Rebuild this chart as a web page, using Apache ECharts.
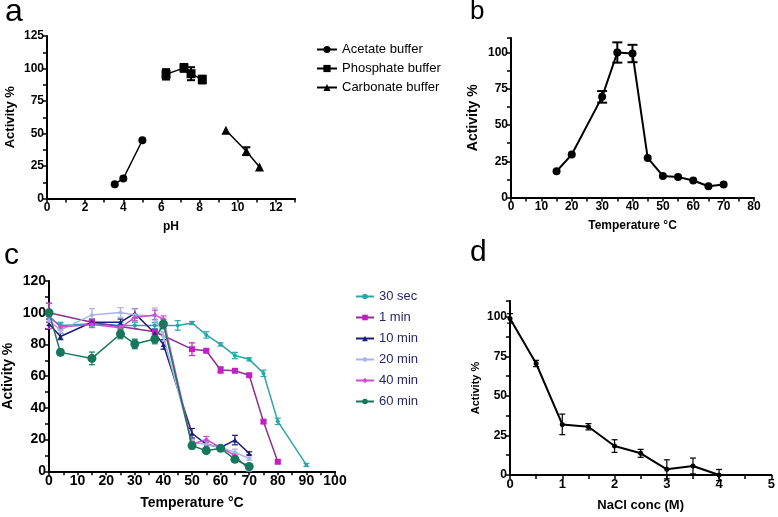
<!DOCTYPE html>
<html>
<head>
<meta charset="utf-8">
<script src="https://cdn.jsdelivr.net/npm/echarts@6/dist/echarts.min.js"></script>
<style>
html,body{margin:0;padding:0;background:#fff;}
#chart{width:778px;height:517px;}
</style>
</head>
<body>
<div id="chart"></div>
<script>
// ---------- Panel a: pH ----------
const phAcetate = [3.55, 4.0, 5.0];
const actAcetate = [11, 15.4, 44.8];
const errAcetate = [0, 0, 0];
const phPhosphate = [6.24, 7.18, 7.55, 8.14];
const actPhosphate = [95.5, 100.5, 96, 91.5];
const errPhosphate = [4, 3, 5, 3];
const phCarbonate = [9.38, 10.45, 11.14];
const actCarbonate = [52.5, 36.4, 24.3];
const errCarbonate = [0, 3, 0];

// ---------- Panel b: temperature ----------
const tempB = [15, 20, 30, 35, 40, 45, 50, 55, 60, 65, 70];
const actB = [18.1, 29.6, 69.4, 100, 99.3, 27.3, 14.9, 14.2, 11.7, 7.8, 9];
const errB = [0, 0, 4, 7, 6, 0, 0, 0, 0, 0, 0];

// ---------- Panel c: thermostability ----------
const legendC = ['30 sec', '1 min', '10 min', '20 min', '40 min', '60 min'];
const temp30s = [0, 4, 15, 25, 30, 37, 40, 45, 50, 55, 60, 65, 70, 75, 80, 90];
const act30s = [97, 92, 93, 92, 92, 92, 92, 92, 93.5, 86, 80, 73, 70.6, 61.8, 31.5, 4];
const err30s = [3, 2, 2, 2, 2, 2, 2, 3, 1, 2, 1, 2, 1, 2, 2, 1];
const temp1m = [0, 15, 37, 50, 55, 60, 65, 70, 75, 80];
const act1m = [100, 94, 88, 77, 76, 63.9, 63.4, 60.6, 31.3, 6];
const err1m = [6, 1, 1, 4, 1, 2, 1, 1, 1, 1];
const temp10m = [0, 4, 15, 25, 30, 37, 40, 50, 55, 60, 65, 70];
const act10m = [93, 85, 94, 94, 99.6, 87, 80, 24, 17, 15, 19.7, 11.3];
const err10m = [3, 2, 2, 2, 3, 2, 3, 3, 2, 1, 3, 1];
const temp20m = [0, 4, 15, 25, 30, 37, 40, 50, 55, 60, 65, 70];
const act20m = [95, 89, 98.6, 100.2, 98.5, 98, 85, 18, 17, 15, 12, 8];
const err20m = [3, 2, 4, 3, 4, 5, 3, 2, 2, 1, 2, 1];
const temp40m = [0, 4, 15, 25, 30, 37, 40, 50, 55, 60, 65, 70];
const act40m = [98, 91, 92.6, 90.5, 97, 98.6, 96, 17, 20, 15, 10, 1];
const err40m = [8, 2, 2, 2, 2, 3, 2, 2, 2, 1, 1, 1];
const temp60m = [0, 4, 15, 25, 30, 37, 40, 50, 55, 60, 65, 70];
const act60m = [100, 75, 71.2, 86.6, 80.3, 83.4, 92.9, 16.2, 13, 14.5, 7.6, 3];
const err60m = [2, 2, 4, 3, 3, 3, 3, 2, 1, 1, 1, 1];

// ---------- Panel d: NaCl ----------
const nacl = [0, 0.5, 1, 1.5, 2, 2.5, 3, 3.5, 4];
const actD = [99, 70.5, 32, 30.5, 18.3, 13.7, 3.6, 5.7, 0];
const errD = [3, 2, 6.5, 2, 4, 2.5, 6, 5, 3.5];

const FONT = 'Liberation Sans, Arial, sans-serif';

function zip(xs, ys) { return xs.map((x, i) => [x, ys[i]]); }

function errSeries(xs, ys, es, color, idx, cap, lw) {
  return {
    type: 'custom', xAxisIndex: idx, yAxisIndex: idx, silent: true, z: 1,
    data: xs.map((x, i) => [x, ys[i], es[i]]),
    encode: { x: 0, y: 1 },
    renderItem: function (params, api) {
      const x = api.value(0), y = api.value(1), e = api.value(2);
      if (!e) return { type: 'group', children: [] };
      const t = api.coord([x, y + e]), b = api.coord([x, y - e]);
      const st = { stroke: color, lineWidth: lw };
      return {
        type: 'group', children: [
          { type: 'line', shape: { x1: t[0], y1: t[1], x2: b[0], y2: b[1] }, style: st },
          { type: 'line', shape: { x1: t[0] - cap, y1: t[1], x2: t[0] + cap, y2: t[1] }, style: st },
          { type: 'line', shape: { x1: b[0] - cap, y1: b[1], x2: b[0] + cap, y2: b[1] }, style: st }
        ]
      };
    }
  };
}

function lineSeries(name, xs, ys, idx, sym, size, itemColor, lineColor, lw) {
  return {
    name: name, type: 'line', xAxisIndex: idx, yAxisIndex: idx, z: 3,
    data: zip(xs, ys), symbol: sym, symbolSize: size, showSymbol: true,
    itemStyle: { color: itemColor, borderWidth: 0 },
    lineStyle: { color: lineColor, width: lw },
    emphasis: { disabled: true }, animation: false
  };
}

function axis(idx, min, max, interval, labelFn, fs, name, nameGap, nameFs) {
  return {
    type: 'value', gridIndex: idx, min: min, max: max, interval: interval,
    axisLine: { show: true, onZero: false, lineStyle: { color: '#000', width: 2 } },
    axisTick: { show: true, length: 4, lineStyle: { color: '#000', width: 1.5 } },
    splitLine: { show: false },
    axisLabel: { color: '#000', fontWeight: 'bold', fontSize: fs, fontFamily: FONT, margin: 3, formatter: labelFn },
    name: name, nameLocation: 'middle', nameGap: nameGap,
    nameTextStyle: { color: '#000', fontWeight: 'bold', fontSize: nameFs, fontFamily: FONT }
  };
}

const every = (m, maxLab) => v => (Math.abs(v / m - Math.round(v / m)) < 1e-9 && v <= maxLab) ? String(v) : '';

const chart = echarts.init(document.getElementById('chart'), null, { renderer: 'canvas' });

const option = {
  animation: false,
  backgroundColor: '#fff',
  grid: [
    { left: 47, top: 36, width: 248, height: 162.5 },
    { left: 511, top: 38, width: 243, height: 159.5 },
    { left: 48, top: 281, width: 287, height: 190.3 },
    { left: 510, top: 301, width: 263, height: 174 }
  ],
  xAxis: [
    axis(0, 0, 13, 1, every(2, 12), 12, 'pH', 22, 12),
    axis(1, 0, 80, 5, every(10, 80), 12, 'Temperature \u00B0C', 22, 12),
    axis(2, 0, 100, 5, every(10, 100), 14, 'Temperature \u00B0C', 25, 14),
    axis(3, 0, 5, 0.5, every(1, 5), 13, 'NaCl conc (M)', 24, 13)
  ],
  yAxis: [
    axis(0, 0, 125, 12.5, every(25, 125), 12, 'Activity %', 30, 13),
    axis(1, 0, 110, 12.5, every(25, 100), 12, 'Activity %', 31, 14),
    axis(2, 0, 120, 10, every(20, 120), 14, 'Activity %', 34, 14),
    axis(3, 0, 110, 12.5, every(25, 100), 12, 'Activity %', 29, 11)
  ],
  legend: [
    {
      data: ['Acetate buffer', 'Phosphate buffer', 'Carbonate buffer'],
      orient: 'vertical', left: 311, top: 38, itemWidth: 20, itemHeight: 9, itemGap: 6,
      textStyle: { color: '#000', fontSize: 13, fontFamily: FONT }, selectedMode: false
    },
    {
      data: legendC,
      orient: 'vertical', left: 350, top: 285, itemWidth: 18, itemHeight: 7, itemGap: 8,
      textStyle: { color: '#26266a', fontSize: 13, fontFamily: FONT }, selectedMode: false
    }
  ],
  graphic: [
    { type: 'text', left: 5, top: -4, style: { text: 'a', font: '32px ' + FONT, fill: '#000' } },
    { type: 'text', left: 470, top: -1, style: { text: 'b', font: '26px ' + FONT, fill: '#000' } },
    { type: 'text', left: 4, top: 241, style: { text: 'c', font: '30px ' + FONT, fill: '#000' } },
    { type: 'text', left: 470, top: 238, style: { text: 'd', font: '30px ' + FONT, fill: '#000' } }
  ],
  series: [
    // a
    lineSeries('Acetate buffer', phAcetate, actAcetate, 0, 'circle', 8, '#000', '#000', 1.5),
    lineSeries('Phosphate buffer', phPhosphate, actPhosphate, 0, 'rect', 9, '#000', '#000', 1.5),
    lineSeries('Carbonate buffer', phCarbonate, actCarbonate, 0, 'triangle', 9, '#000', '#000', 1.5),
    errSeries(phPhosphate, actPhosphate, errPhosphate, '#000', 0, 4, 2),
    errSeries(phCarbonate, actCarbonate, errCarbonate, '#000', 0, 4, 2),
    errSeries(phAcetate, actAcetate, errAcetate, '#000', 0, 4, 2),
    // b
    lineSeries('b', tempB, actB, 1, 'circle', 8, '#000', '#000', 2),
    errSeries(tempB, actB, errB, '#000', 1, 5, 2),
    // c
    lineSeries('30 sec', temp30s, act30s, 2, 'circle', 4, '#2ca5a8', '#2ca5a8', 1.5),
    lineSeries('1 min', temp1m, act1m, 2, 'rect', 6, '#c41fc6', '#8e2e90', 1.5),
    lineSeries('10 min', temp10m, act10m, 2, 'triangle', 5, '#1b1f7a', '#1b1f7a', 1.5),
    lineSeries('20 min', temp20m, act20m, 2, 'diamond', 5, '#a9b3e6', '#a9b3e6', 1.5),
    lineSeries('40 min', temp40m, act40m, 2, 'diamond', 5, '#cc4fd0', '#cc4fd0', 1.5),
    lineSeries('60 min', temp60m, act60m, 2, 'circle', 9, '#16775a', '#16775a', 1.5),
    errSeries(temp30s, act30s, err30s, '#2ca5a8', 2, 3, 1.2),
    errSeries(temp1m, act1m, err1m, '#c41fc6', 2, 3, 1.2),
    errSeries(temp10m, act10m, err10m, '#1b1f7a', 2, 3, 1.2),
    errSeries(temp20m, act20m, err20m, '#a9b3e6', 2, 3, 1.2),
    errSeries(temp40m, act40m, err40m, '#cc4fd0', 2, 3, 1.2),
    errSeries(temp60m, act60m, err60m, '#16775a', 2, 3, 1.2),
    // d
    lineSeries('d', nacl, actD, 3, 'circle', 5, '#000', '#000', 2),
    errSeries(nacl, actD, errD, '#000', 3, 3, 1.2)
  ]
};
chart.setOption(option);
</script>
</body>
</html>
